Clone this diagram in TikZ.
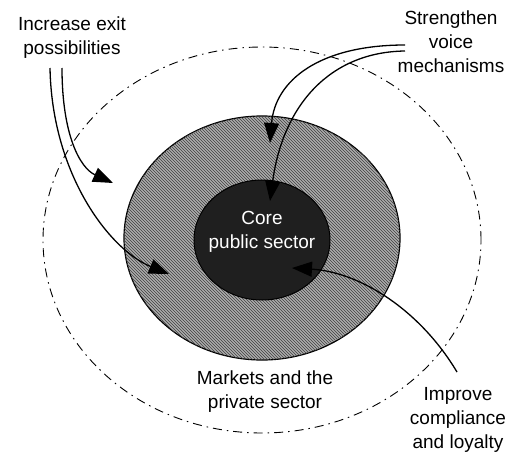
\documentclass[tikz,border=0pt]{standalone}
\usepackage{fontspec}
\setmainfont{Liberation Sans}
\usetikzlibrary{shapes.geometric,arrows.meta,patterns}
\begin{document}
\begin{tikzpicture}[x=1pt,y=-1pt,
  lbl/.style={align=center,font=\fontsize{19}{24}\selectfont,inner sep=0pt},
  conn/.style={line width=1.3pt,-{Triangle[length=20pt,width=15pt,fill=black]}},
  ringshape/.style={ellipse,draw=black,line width=1.2pt,fill=gray!65,
    postaction={pattern=north west lines,pattern color=black!75}},
  coreshape/.style={ellipse,draw=black,line width=1pt,fill=black!88},
  outershape/.style={ellipse,draw=black,line width=0.9pt,
    dash pattern=on 9pt off 5pt on 1.5pt off 5pt}]
\useasboundingbox (0,0) rectangle (511,455);
\node[outershape,minimum width=438pt,minimum height=386pt] (outer) at (262,240) {};
\node[ringshape,minimum width=276pt,minimum height=244pt] (ring) at (262,238) {};
\node[coreshape,minimum width=136pt,minimum height=120pt] (core) at (262,240) {};
\node[lbl,text=white] (coretext) at (262,232) {Core\\public sector};
\node[lbl] (exit) at (72,38) {Increase exit\\possibilities};
\node[lbl] (voice) at (451,42) {Strengthen\\voice\\mechanisms};
\node[lbl] (markets) at (265,392) {Markets and the\\private sector};
\node[lbl] (loyal) at (458,420) {Improve\\compliance\\and loyalty};
\coordinate (a1) at (50,68);
\coordinate (a2) at (62,68);
\coordinate (v1) at (405,45);
\coordinate (v2) at (405,51);
\coordinate (l1) at (457,372);
\coordinate (tA) at (113,183);
\coordinate (tB) at (169,274);
\coordinate (tC) at (270,143);
\coordinate (tD) at (270,201);
\coordinate (tE) at (292,268);
\draw[conn] (a2) .. controls (62,135) and (80,168) .. (tA);
\draw[conn] (a1) .. controls (52,175) and (110,250) .. (tB);
\draw[conn] (v1) .. controls (320,45) and (275,80) .. (tC);
\draw[conn] (v2) .. controls (330,52) and (283,105) .. (tD);
\draw[conn] (l1) .. controls (420,310) and (360,272) .. (tE);
\end{tikzpicture}
\end{document}
